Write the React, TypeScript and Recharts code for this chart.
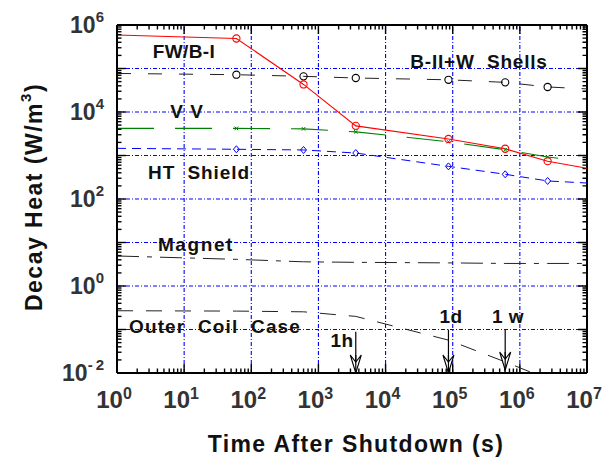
import React from 'react';
import { LineChart, Line, XAxis, YAxis, ReferenceLine } from 'recharts';

const FONT = 'Arial, "Liberation Sans", Helvetica, sans-serif';

// ---- axes / ticks ----
const xDecades = [1, 10, 100, 1000, 1e4, 1e5, 1e6, 1e7];
const yDecades = [0.01, 0.1, 1, 10, 100, 1000, 1e4, 1e5, 1e6];
const minorMultipliers = [2, 3, 4, 5, 6, 7, 8, 9];
const xGrid = [10, 100, 1000, 1e4, 1e5, 1e6];
const yGrid = [0.1, 1, 10, 100, 1000, 1e4, 1e5];

const withMinors = (dec: number[]) => {
  const out: number[] = [];
  dec.forEach((d, i) => {
    out.push(d);
    if (i < dec.length - 1) minorMultipliers.forEach((m) => out.push(d * m));
  });
  return out;
};
const xTicksAll = withMinors(xDecades);
const yTicksAll = withMinors(yDecades);

// ---- data (time after shutdown in s, decay heat W/m3) ----
const times = [1, 60, 600, 3600, 86400, 604800, 2592000, 1e7];
const fwValues = [5.9e5, 4.9e5, 4.3e4, 4.8e3, 2.4e3, 1.43e3, 740, 510];
const shellValues = [7.7e4, 7.2e4, 6.6e4, 6.05e4, 5.5e4, 4.8e4, 3.76e4, 3.4e4];
const vvTimes = [1, 60, 600, 3600, 86400, 604800, 2592000, 6e6];
const vvValues = [4.2e3, 4.2e3, 4.1e3, 3.5e3, 2.07e3, 1.36e3, 925, 790];
const htValues = [1.46e3, 1.39e3, 1.34e3, 1.14e3, 563, 370, 260, 233];
const magnetValues = [4.9, 4.1, 3.6, 3.5, 3.4, 3.3, 3.3, 3.3];
const coilTimes = [1, 60, 600, 3600, 86400, 604800, 2592000];
const coilValues = [0.27, 0.265, 0.255, 0.2, 0.057, 0.018, 0.0073];

// arrows: 1 hour, 1 day, 1 week
const arrowTimes = [3600, 86400, 604800];
const arrowTops = [0.089, 0.1, 0.1];
const arrowTips = [0.01, 0.01, 0.0117];

const toRows = (ts: number[], vs: number[]) => ts.map((t, i) => ({ t, v: vs[i] }));
const fwData = toRows(times, fwValues);
const shellData = toRows(times, shellValues);
const vvData = toRows(vvTimes, vvValues);
const htData = toRows(times, htValues);
const magnetData = toRows(times, magnetValues);
const coilData = toRows(coilTimes, coilValues);

// ---- plot frame geometry (log decades -> pixels) ----
const PX_PER_DEC_X = 470 / 7;
const PX_PER_DEC_Y = 348 / 8;
const isDecade = (v: number) => Math.abs(Math.log10(v) - Math.round(Math.log10(v))) < 1e-6;
const expOf = (v: number) => Math.round(Math.log10(v));
const tickLen = (v: number) => (isDecade(v) ? 9 : 4.5);

// top-frame tick marks (a broken polyline)
const topTickData: { t: number; v: number | null }[] = [];
xTicksAll.slice(1, -1).forEach((t) => {
  topTickData.push({ t, v: 1e6 });
  topTickData.push({ t, v: Math.pow(10, 6 - tickLen(t) / PX_PER_DEC_Y) });
  topTickData.push({ t, v: null });
});
// right-frame tick marks
const rightTickData: { t: number; v: number | null }[] = [];
yTicksAll.slice(1, -1).forEach((v) => {
  rightTickData.push({ t: 1e7, v });
  rightTickData.push({ t: Math.pow(10, 7 - tickLen(v) / PX_PER_DEC_X), v });
  rightTickData.push({ t: 1e7, v: null });
});

// ---- annotation texts (pixel baselines) ----
const annotations = [
  { text: 'FW/B-I', x: 184, y: 58, ls: 0.4 },
  { text: 'B-II+W  Shells', x: 479, y: 68, ls: 0.8 },
  { text: 'V V', x: 187, y: 118, ls: 1 },
  { text: 'HT  Shield', x: 199, y: 179, ls: 0.9 },
  { text: 'Magnet', x: 196, y: 251, ls: 1.6 },
  { text: 'Outer  Coil  Case', x: 215, y: 333, ls: 1.1 },
  { text: '1h', x: 342, y: 347, ls: 0.5 },
  { text: '1d', x: 451, y: 323, ls: 0.5 },
  { text: '1 w', x: 508, y: 323, ls: 0.5 },
];

const BottomTick = (props: any) => {
  const { x, y, payload } = props;
  const v = payload.value;
  const major = isDecade(v);
  return (
    <g>
      <line x1={x} x2={x} y1={y} y2={y - tickLen(v)} stroke="#000" strokeWidth={1.4} />
      {major && (
        <text x={x - 3} y={y + 35} textAnchor="middle" fontFamily={FONT} fontWeight="bold" fontSize={24} fill="#333">
          10<tspan fontSize={16} dy={-9}>{expOf(v)}</tspan>
        </text>
      )}
    </g>
  );
};
const LeftTick = (props: any) => {
  const { x, y, payload } = props;
  const v = payload.value;
  const e = expOf(v);
  const show = isDecade(v) && e % 2 === 0;
  return (
    <g>
      <line x1={x} x2={x + tickLen(v)} y1={y} y2={y} stroke="#000" strokeWidth={1.4} />
      {show && (
        <text x={x - 13} y={y + 8} textAnchor="end" fontFamily={FONT} fontWeight="bold" fontSize={23} fill="#333">
          10
          {e < 0 ? (
            <>
              <tspan fontSize={15} dy={-11}>-</tspan>
              <tspan fontSize={15} dx={3}>{-e}</tspan>
            </>
          ) : (
            <tspan fontSize={15} dy={-11}>{e}</tspan>
          )}
        </text>
      )}
    </g>
  );
};

const inner = (t: number) => t > 10 && t < 5e6;
const circleDot = (color: string) => (p: any) =>
  inner(p.payload.t) ? (
    <circle key={p.index} cx={p.cx} cy={p.cy} r={3.6} fill="none" stroke={color} strokeWidth={1.1} />
  ) : (
    <g key={p.index} />
  );
const diamondDot = (p: any) =>
  inner(p.payload.t) ? (
    <path key={p.index} d={`M${p.cx},${p.cy - 3.5}L${p.cx + 3},${p.cy}L${p.cx},${p.cy + 3.5}L${p.cx - 3},${p.cy}Z`} fill="none" stroke="#0000ff" strokeWidth={1} />
  ) : (
    <g key={p.index} />
  );
const crossDot = (p: any) =>
  inner(p.payload.t) ? (
    <path key={p.index} d={`M${p.cx - 1.8},${p.cy - 1.8}L${p.cx + 1.8},${p.cy + 1.8}M${p.cx - 1.8},${p.cy + 1.8}L${p.cx + 1.8},${p.cy - 1.8}`} stroke="#008000" strokeWidth={1} />
  ) : (
    <g key={p.index} />
  );
const arrowDot = (p: any) => {
  if (p.index !== 1) return <g key={p.index} />;
  const { cx, cy } = p;
  return (
    <g key={p.index}>
      <path d={`M${cx},${cy}L${cx - 5.5},${cy - 18}L${cx},${cy - 11}L${cx + 5.5},${cy - 18}Z`} fill="#fff" stroke="#000" strokeWidth={1.1} />
      <line x1={cx} x2={cx} y1={cy - 18} y2={cy} stroke="#000" strokeWidth={1.2} />
    </g>
  );
};

const axisLine = { stroke: '#000', strokeWidth: 2 };
const textStyle = { fontFamily: FONT, fontWeight: 'bold' as const, fill: '#111' };

export default function App() {
  return (
    <div style={{ position: 'absolute', left: 0, top: 0, width: 604, height: 464, background: '#fff' }}>
      <LineChart width={604} height={464} margin={{ top: 25, right: 17, bottom: 0, left: 0 }}>
        <XAxis dataKey="t" type="number" scale="log" domain={[1, 1e7]} allowDataOverflow ticks={xTicksAll} interval={0} tick={BottomTick} tickLine={false} tickSize={0} tickMargin={0} axisLine={axisLine} height={91} />
        <YAxis dataKey="v" type="number" scale="log" domain={[0.01, 1e6]} allowDataOverflow ticks={yTicksAll} interval={0} tick={LeftTick} tickLine={false} tickSize={0} tickMargin={0} axisLine={axisLine} width={117} />

        {xGrid.map((g) => (
          <ReferenceLine key={'gx' + g} x={g} stroke="#0000ff" strokeWidth={1.1} strokeDasharray="4 2 1 2" />
        ))}
        {yGrid.map((g) => (
          <ReferenceLine key={'gy' + g} y={g} stroke="#0000ff" strokeWidth={1.1} strokeDasharray="4 2 1 2" />
        ))}
        <ReferenceLine y={1e6} stroke="#000" strokeWidth={2} />
        <ReferenceLine x={1e7} stroke="#000" strokeWidth={2} />

        <Line data={topTickData} dataKey="v" type="linear" stroke="#000" strokeWidth={1.4} dot={false} activeDot={false} connectNulls={false} isAnimationActive={false} />
        <Line data={rightTickData} dataKey="v" type="linear" stroke="#000" strokeWidth={1.4} dot={false} activeDot={false} connectNulls={false} isAnimationActive={false} />

        <Line data={coilData} dataKey="v" type="linear" stroke="#222" strokeWidth={1} strokeDasharray="16 13" dot={false} isAnimationActive={false} />
        <Line data={magnetData} dataKey="v" type="linear" stroke="#222" strokeWidth={1} strokeDasharray="22 8 5 8" dot={false} isAnimationActive={false} />
        <Line data={htData} dataKey="v" type="linear" stroke="#0000ff" strokeWidth={1} strokeDasharray="9 6" dot={diamondDot} isAnimationActive={false} />
        <Line data={vvData} dataKey="v" type="linear" stroke="#008000" strokeWidth={1.1} strokeDasharray="37 21" dot={crossDot} isAnimationActive={false} />
        <Line data={shellData} dataKey="v" type="linear" stroke="#222" strokeWidth={1} strokeDasharray="14 17" dot={circleDot('#000')} isAnimationActive={false} />
        <Line data={fwData} dataKey="v" type="linear" stroke="#ff0000" strokeWidth={1.1} dot={circleDot('#ff0000')} isAnimationActive={false} />

        {arrowTimes.map((t, i) => (
          <Line key={'arrow' + t} data={[{ t, v: arrowTops[i] }, { t, v: arrowTips[i] }]} dataKey="v" type="linear" stroke="#000" strokeWidth={1.2} dot={arrowDot} activeDot={false} isAnimationActive={false} />
        ))}
      </LineChart>

      <svg width={604} height={464} style={{ position: 'absolute', left: 0, top: 0, pointerEvents: 'none' }}>
        {annotations.map((a) => (
          <text key={a.text} x={a.x} y={a.y} textAnchor="middle" fontSize={19} letterSpacing={a.ls} style={{ whiteSpace: 'pre' }} {...textStyle}>
            {a.text}
          </text>
        ))}
        <text x={356} y={452} textAnchor="middle" fontSize={23} letterSpacing={1.4} {...textStyle}>
          Time After Shutdown (s)
        </text>
        <text x={42} y={197} transform="rotate(-90, 42, 197)" textAnchor="middle" fontSize={23} letterSpacing={1.5} {...textStyle}>
          Decay Heat (W/m<tspan fontSize={15} dy={-11}>3</tspan>
          <tspan dy={11}>)</tspan>
        </text>
      </svg>
    </div>
  );
}
